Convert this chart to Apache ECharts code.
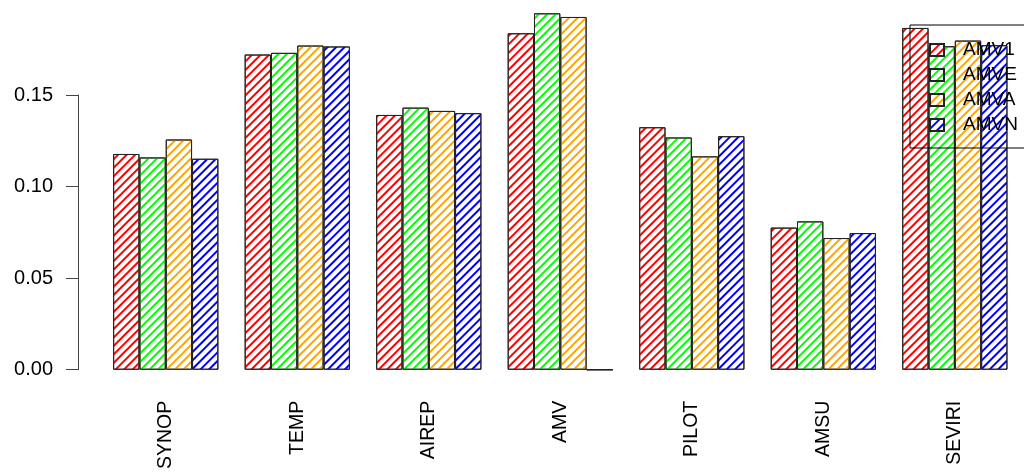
<!DOCTYPE html>
<html>
<head>
<meta charset="utf-8">
<style>
  html, body { margin: 0; padding: 0; background: #fff; }
  #chart { width: 1024px; height: 472px; }
</style>
<script src="https://cdn.jsdelivr.net/npm/echarts@6/dist/echarts.min.js"></script>
</head>
<body>
<div id="chart"></div>
<script>
// Observation types along the x axis
const categories = ['SYNOP', 'TEMP', 'AIREP', 'AMV', 'PILOT', 'AMSU', 'SEVIRI'];

// One value per observation type for each experiment
const amv1 = [0.1178, 0.1721, 0.1391, 0.1837, 0.1324, 0.0776, 0.1866];
const amve = [0.1159, 0.1730, 0.1431, 0.1946, 0.1268, 0.0810, 0.1766];
const amva = [0.1257, 0.1770, 0.1413, 0.1926, 0.1165, 0.0719, 0.1797];
const amvn = [0.1152, 0.1765, 0.1401, 0.0000, 0.1275, 0.0746, 0.1772];

const seriesNames = ['AMV1', 'AMVE', 'AMVA', 'AMVN'];
const hatchColors = ['#ff0000', '#00ff00', '#ffa500', '#0000ff'];
const yTicks = [0, 0.05, 0.10, 0.15];

const FONT = '"Liberation Sans", Arial, Helvetica, sans-serif';

// Diagonal "/" hatching drawn as a rotated stripe decal
function hatch(color) {
  return {
    symbol: 'rect',
    symbolSize: 1,
    color: color,
    backgroundColor: null,
    dashArrayX: [1, 0],
    dashArrayY: [1.2, 3.8],
    rotation: -Math.PI / 4
  };
}

const seriesData = [amv1, amve, amva, amvn];

const chart = echarts.init(document.getElementById('chart'), null, { renderer: 'canvas' });

chart.setOption({
  animation: false,
  backgroundColor: '#ffffff',
  grid: { left: 100, right: 3.4, top: 95, bottom: 101, containLabel: false },
  legend: {
    orient: 'vertical',
    left: 910,
    top: 25,
    padding: [15, 60, 13, 19],
    itemWidth: 14,
    itemHeight: 12,
    itemGap: 5,
    borderColor: '#000',
    borderWidth: 1,
    borderRadius: 0,
    backgroundColor: 'transparent',
    icon: 'rect',
    textStyle: {
      fontFamily: FONT,
      fontSize: 19,
      lineHeight: 20,
      color: '#000',
      padding: [0, 0, 0, 14]
    },
    data: seriesNames
  },
  xAxis: {
    type: 'category',
    data: categories,
    axisLine: { show: false },
    axisTick: { show: false },
    splitLine: { show: false },
    axisLabel: {
      rotate: 90,
      margin: 31,
      fontFamily: FONT,
      fontSize: 19.5,
      color: '#000'
    }
  },
  yAxis: {
    type: 'value',
    min: yTicks[0],
    max: yTicks[yTicks.length - 1],
    interval: 0.05,
    offset: 22,
    axisLine: { show: true, lineStyle: { color: '#444', width: 1 } },
    axisTick: { show: true, length: 12, lineStyle: { color: '#444', width: 1 } },
    splitLine: { show: false },
    axisLabel: {
      margin: 25,
      fontFamily: FONT,
      fontSize: 20,
      color: '#000',
      formatter: v => v.toFixed(2)
    }
  },
  series: seriesNames.map((name, i) => ({
    name: name,
    type: 'bar',
    data: seriesData[i],
    clip: false,
    barGap: '0%',
    barCategoryGap: '20%',
    itemStyle: {
      color: '#ffffff',
      borderColor: '#222',
      borderWidth: 1,
      decal: hatch(hatchColors[i])
    },
    emphasis: { disabled: true }
  }))
});
</script>
</body>
</html>
